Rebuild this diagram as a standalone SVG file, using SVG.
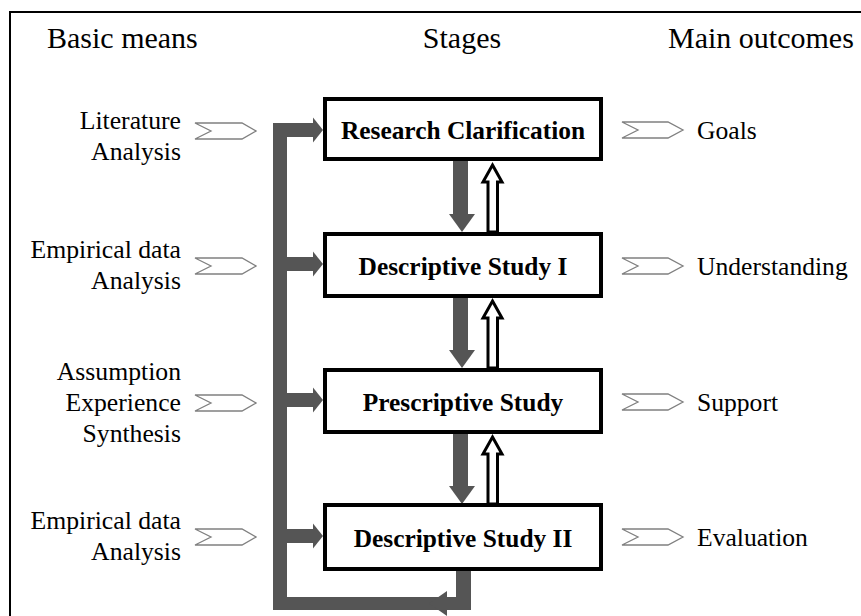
<svg xmlns="http://www.w3.org/2000/svg" width="861" height="616" viewBox="0 0 861 616">
<style>
text{font-family:'Liberation Serif','Times New Roman','DejaVu Serif',serif;fill:#000}
.h{font-size:30px}
.l{font-size:25.7px;text-anchor:end}
.r{font-size:25.6px}
.b{font-size:25.4px;font-weight:bold;text-anchor:middle}
.box{fill:#fff;stroke:#000;stroke-width:4}
.chev{fill:#fff;stroke:#808080;stroke-width:1.3}
.dark{fill:#555}
.hollow{fill:#fff;stroke:#000;stroke-width:3;stroke-linejoin:miter}
</style>
<defs>
<polygon id="chL" class="chev" points="195,-8 242,-8 256,0 242,8 195,8 211,0"/>
<polygon id="chR" class="chev" points="622,-8 668,-8 683,0 668,8 622,8 638,0"/>
</defs>
<rect width="861" height="616" fill="#fff"/>
<path d="M10 616 V12 H861" fill="none" stroke="#000" stroke-width="2"/>
<g id="headers">
<text class="h" x="47" y="48">Basic means</text>
<text class="h" x="462" y="48" text-anchor="middle">Stages</text>
<text class="h" x="668" y="48">Main outcomes</text>
</g>
<g id="connectors">
<rect class="dark" x="273" y="123" width="14" height="487"/>
<rect class="dark" x="273" y="597" width="198" height="13"/>
<rect class="dark" x="456" y="569" width="15" height="41"/>
<polygon class="dark" points="447,591 447,616 429,603.5"/>
<rect class="dark" x="280" y="123" width="34" height="14"/>
<polygon class="dark" points="313,117.5 323,130 313,142.5"/>
<rect class="dark" x="280" y="257" width="34" height="14"/>
<polygon class="dark" points="313,251.5 323,264 313,276.5"/>
<rect class="dark" x="280" y="393" width="34" height="14"/>
<polygon class="dark" points="313,387.5 323,400 313,412.5"/>
<rect class="dark" x="280" y="529" width="34" height="14"/>
<polygon class="dark" points="313,523.5 323,536 313,548.5"/>
<rect class="dark" x="453" y="160" width="15" height="55"/>
<polygon class="dark" points="449,214 475,214 462,232"/>
<rect class="dark" x="453" y="296" width="15" height="55"/>
<polygon class="dark" points="449,350 475,350 462,368"/>
<rect class="dark" x="453" y="432" width="15" height="55"/>
<polygon class="dark" points="449,486 475,486 462,504"/>
<polygon class="hollow" points="492.5,165 502,182 497.5,182 497.5,232 488,232 488,182 483,182"/>
<polygon class="hollow" points="492.5,301 502,318 497.5,318 497.5,368 488,368 488,318 483,318"/>
<polygon class="hollow" points="492.5,437 502,454 497.5,454 497.5,504 488,504 488,454 483,454"/>
<use href="#chL" y="131"/>
<use href="#chL" y="266"/>
<use href="#chL" y="403"/>
<use href="#chL" y="537"/>
<use href="#chR" y="130"/>
<use href="#chR" y="266"/>
<use href="#chR" y="402"/>
<use href="#chR" y="537"/>
</g>
<g id="rc">
<rect class="box" x="325" y="99" width="276" height="60"/>
<text class="b" x="463" y="139">Research Clarification</text>
</g>
<g id="ds1">
<rect class="box" x="325" y="234" width="276" height="62"/>
<text class="b" x="463" y="275">Descriptive Study I</text>
</g>
<g id="ps">
<rect class="box" x="325" y="370" width="276" height="62"/>
<text class="b" x="463" y="411">Prescriptive Study</text>
</g>
<g id="ds2">
<rect class="box" x="325" y="505" width="276" height="64"/>
<text class="b" x="463" y="547">Descriptive Study II</text>
</g>
<g id="means">
<text class="l" x="181" y="129">Literature</text>
<text class="l" x="181" y="160">Analysis</text>
<text class="l" x="181" y="258">Empirical data</text>
<text class="l" x="181" y="289">Analysis</text>
<text class="l" x="181" y="380">Assumption</text>
<text class="l" x="181" y="411">Experience</text>
<text class="l" x="181" y="442">Synthesis</text>
<text class="l" x="181" y="529">Empirical data</text>
<text class="l" x="181" y="560">Analysis</text>
</g>
<g id="outcomes">
<text class="r" x="697" y="139">Goals</text>
<text class="r" x="697" y="275">Understanding</text>
<text class="r" x="697" y="411">Support</text>
<text class="r" x="697" y="546">Evaluation</text>
</g>
</svg>
